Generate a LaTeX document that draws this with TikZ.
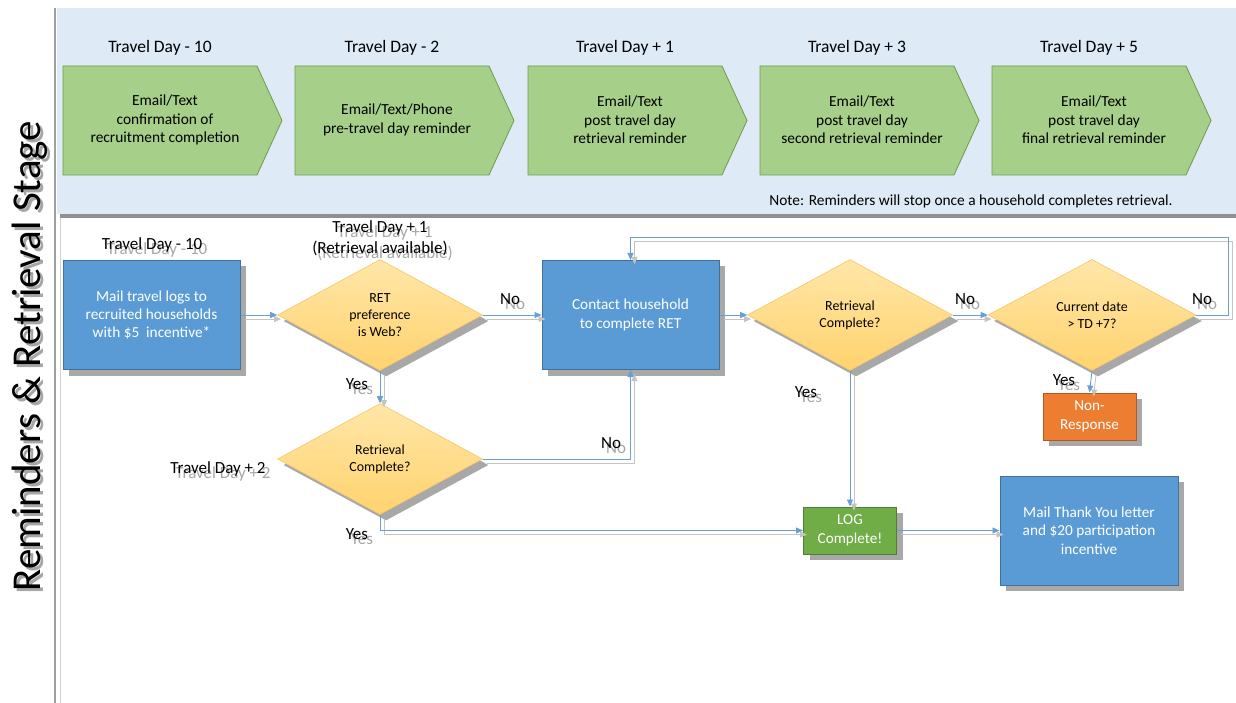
\documentclass[tikz,border=0pt]{standalone}
\usepackage{fontspec}
\setmainfont{Carlito}
\usetikzlibrary{shapes.geometric,shadows,arrows.meta,calc}
\definecolor{bandblue}{HTML}{DEEAF6}
\definecolor{bargray}{HTML}{909090}
\definecolor{chevfill}{HTML}{A6CF89}
\definecolor{chevdraw}{HTML}{6E9C4C}
\definecolor{boxblue}{HTML}{5B9BD5}
\definecolor{boxborder}{HTML}{41719C}
\definecolor{diatop}{HTML}{FFE6A8}
\definecolor{diabot}{HTML}{FFD36E}
\definecolor{diadraw}{HTML}{F6C56A}
\definecolor{orangebox}{HTML}{ED7D31}
\definecolor{orangedraw}{HTML}{AE5A21}
\definecolor{greenbox}{HTML}{70AD47}
\definecolor{greendraw}{HTML}{507E32}
\definecolor{lineblue}{HTML}{6A9FD4}
\definecolor{shgray}{HTML}{A8A8A8}
\definecolor{lnshgray}{HTML}{C4C4C4}
\definecolor{txtsh}{HTML}{A6A6A6}
\newcommand\conn[1]{\draw[connsh] #1; \draw[conn] #1;}
\newcommand\lbl[4]{\node[lblsh] (#1s) at ([shift={(5,5)}]#2,#3) {#4}; \node[lbl] (#1) at (#2,#3) {#4};}
\begin{document}
\begin{tikzpicture}[x=1pt,y=-1pt,
  shadowed/.style={drop shadow={shadow xshift=6pt, shadow yshift=-6pt, fill=shgray, opacity=1}},
  chev/.style={fill=chevfill, draw=chevdraw, line width=0.8pt},
  hdr/.style={font=\fontsize{17.5}{20}\selectfont, text=black, inner sep=0pt},
  chevtxt/.style={font=\fontsize{15.4}{18.5}\selectfont, align=center, text=black, inner sep=0pt},
  lbl/.style={font=\fontsize{17}{21}\selectfont, align=center, text=black, inner sep=0pt},
  lblsh/.style={lbl, text=txtsh},
  bluebox/.style={rectangle, fill=boxblue, draw=boxborder, line width=1pt, text=white, align=center,
    font=\fontsize{15.3}{18.3}\selectfont, minimum width=177pt, minimum height=109pt, inner sep=2pt, shadowed},
  smallbox/.style={rectangle, line width=1pt, text=white, align=center,
    font=\fontsize{15.2}{19}\selectfont, minimum width=93pt, minimum height=47pt, inner sep=1pt, shadowed},
  decision/.style={diamond, top color=diatop, bottom color=diabot, draw=diadraw, line width=0.6pt,
    minimum width=205pt, minimum height=111pt, inner sep=0pt, align=center, text=black,
    font=\fontsize{13.9}{17}\selectfont, shadowed},
  conn/.style={draw=lineblue, line width=0.9pt, -{Triangle[length=7pt,width=6pt]}},
  connsh/.style={draw=lnshgray, line width=0.9pt, -{Triangle[length=7pt,width=6pt]},
    transform canvas={shift={(4pt,-4pt)}}}
]
\useasboundingbox (0,0) rectangle (1236,703);
% panels
\fill[bandblue] (57,8) rectangle (1236,214);
\fill[bargray] (60,214) rectangle (1236,218);
\draw[gray!75, line width=1.2pt] (55,8) -- (55,703);
\draw[gray!35, line width=0.8pt] (60,218) -- (60,703);
% title
\node[rotate=90, font=\fontsize{41}{44}\selectfont, text=txtsh, inner sep=0pt] (titles) at (33,359) {Reminders \& Retrieval Stage};
\node[rotate=90, font=\fontsize{41}{44}\selectfont, text=black, inner sep=0pt] (title) at (30,356) {Reminders \& Retrieval Stage};
% chevrons
\foreach \x/\h/\t [count=\i] in {63/{Travel Day - 10}/{Email/Text\\confirmation of\\recruitment completion},
  295/{Travel Day - 2}/{Email/Text/Phone\\pre-travel day reminder},
  528/{Travel Day + 1}/{Email/Text\\post travel day\\retrieval reminder},
  760/{Travel Day + 3}/{Email/Text\\post travel day\\second retrieval reminder},
  992/{Travel Day + 5}/{Email/Text\\post travel day\\final retrieval reminder}}{
  \draw[chev] (\x,66) -- ++(194,0) -- ++(25,54.5) -- ++(-25,54.5) -- ++(-194,0) -- cycle;
  \node[chevtxt] (chev\i) at (\x+102,120) {\t};
  \node[hdr] (hdr\i) at (\x+97,48) {\h};
}
\node[font=\fontsize{15.4}{18}\selectfont, text=black, inner sep=0pt] (note) at (971,201) {Note: Reminders will stop once a household completes retrieval.};
% flow nodes
\node[bluebox] (mail) at (151.5,315) {Mail travel logs to\\recruited households\\with \$5~ incentive*};
\node[decision] (d1) at (380,315) {RET\\preference\\is Web?};
\node[bluebox] (contact) at (630.5,315) {Contact household\\to complete RET};
\node[decision] (d2) at (380,459) {Retrieval\\Complete?};
\node[decision] (d3) at (850,315) {Retrieval\\Complete?};
\node[decision, minimum width=208pt] (d4) at (1092,315) {Current date\\> TD +7?};
\node[smallbox, fill=orangebox, draw=orangedraw] (nonresp) at (1089.5,416.5) {Non-\\Response};
\node[smallbox, fill=greenbox, draw=greendraw] (log) at (850,530.5) {LOG\\Complete!};
\node[bluebox, minimum width=178pt] (thanks) at (1089,530.5) {Mail Thank You letter\\and \$20 participation\\incentive};
\coordinate (loopR) at (1228,237);
% connectors
\conn{(mail.east) -- (d1.west)}
\conn{(d1.east) -- (contact.west)}
\conn{(d1.south) -- (d2.north)}
\conn{(d2.east) -| (contact.south)}
\conn{(d2.south) |- (log.west)}
\conn{(contact.east) -- (d3.west)}
\conn{(d3.east) -- (d4.west)}
\conn{(d4.east) -| (loopR) -| (contact.north)}
\conn{(d4.south) -- (nonresp.north)}
\conn{(d3.south) -- (log.north)}
\conn{(log.east) -- (thanks.west)}
% labels
\lbl{tdm10}{152}{245}{Travel Day - 10}
\lbl{tdp1}{380}{238}{Travel Day + 1\\(Retrieval available)}
\lbl{tdp2}{218}{469}{Travel Day + 2}
\lbl{no1}{510}{299}{No}
\lbl{yes1}{357}{384}{Yes}
\lbl{no2}{611}{443}{No}
\lbl{yes2}{357}{534}{Yes}
\lbl{no3}{965}{299}{No}
\lbl{no4}{1202}{299}{No}
\lbl{yes4}{1064}{380}{Yes}
\lbl{yes3}{806}{392}{Yes}
\end{tikzpicture}
\end{document}
